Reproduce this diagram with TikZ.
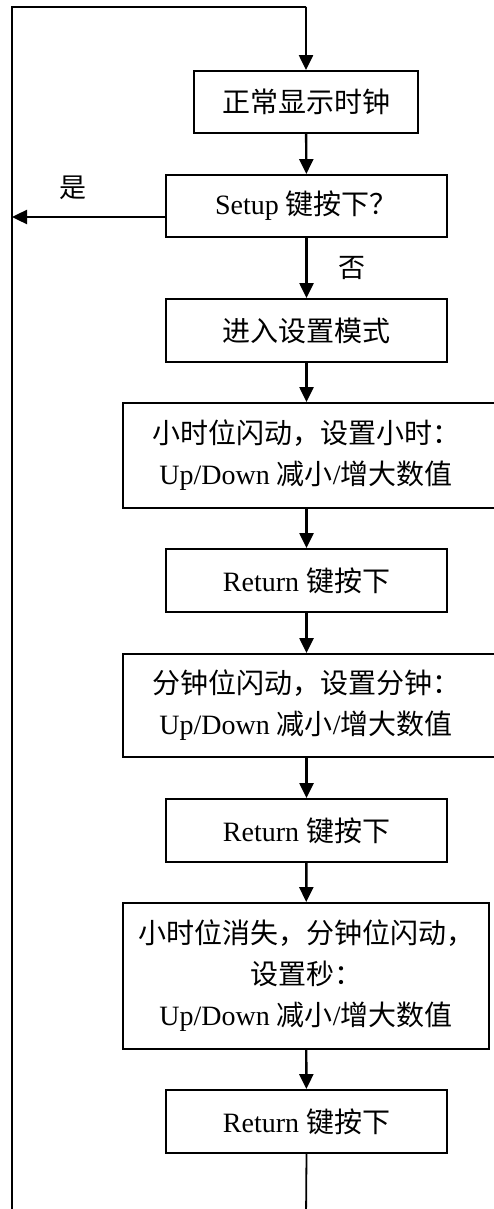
\documentclass[tikz,border=0pt]{standalone}
\usepackage{fontspec}
\setmainfont{Liberation Serif}
\newfontfamily\cjk{Noto Sans CJK SC}
\usetikzlibrary{arrows.meta}
\tikzset{
  box/.style={draw, line width=1.9pt, minimum height=62pt, inner sep=0pt, align=center,
    font=\fontsize{28}{41}\selectfont},
  flow/.style={line width=2.4pt, -{Triangle[length=15pt,width=14pt]}},
  loopline/.style={line width=1.8pt},
  lbl/.style={font=\fontsize{27}{30}\selectfont\cjk, inner sep=0pt}
}
\newcommand\shiftl{\hspace*{-14pt}}
\begin{document}
\begin{tikzpicture}[x=1pt,y=-1pt]
\useasboundingbox (0,0) rectangle (494,1209);
\node[box, minimum width=224pt] (b1) at (306,102) {\cjk 正常显示时钟};
\node[box, minimum width=281pt] (b2) at (306.5,206) {Setup {\cjk 键按下？}};
\node[box, minimum width=281pt, minimum height=63pt] (b3) at (306.5,330.5) {\cjk 进入设置模式};
\node[box, minimum width=380pt, minimum height=105pt] (b4) at (313,455.5) {\shiftl{\cjk 小时位闪动，设置小时：}\\\shiftl Up/Down {\cjk 减小}/{\cjk 增大数值}};
\node[box, minimum width=281pt, minimum height=63pt] (b5) at (306.5,580.5) {Return {\cjk 键按下}};
\node[box, minimum width=380pt, minimum height=103pt] (b6) at (313,705.5) {\shiftl{\cjk 分钟位闪动，设置分钟：}\\\shiftl Up/Down {\cjk 减小}/{\cjk 增大数值}};
\node[box, minimum width=281pt, minimum height=63pt] (b7) at (306.5,830.5) {Return {\cjk 键按下}};
\node[box, minimum width=366pt, minimum height=146pt] (b8) at (306,976) {{\cjk 小时位消失，分钟位闪动，}\\{\cjk 设置秒：}\\Up/Down {\cjk 减小}/{\cjk 增大数值}};
\node[box, minimum width=281pt, minimum height=63pt] (b9) at (306.5,1121.5) {Return {\cjk 键按下}};

\coordinate (top) at (306,7);
\coordinate (topleft) at (12,7);
\coordinate (botleft) at (12,1220);
\coordinate (bot) at (306,1220);
\coordinate (yesend) at (12,217);

\draw[loopline] (b9.south) -- (bot) -- (botleft) -- (topleft) -- (top);
\draw[flow] (top) -- (b1.north);
\draw[flow] (b1) -- (b2);
\draw[flow] (b2.west |- yesend) -- (yesend);
\draw[flow] (b2) -- (b3);
\draw[flow] (b3) -- (b4.north -| b3.south);
\draw[flow] (b4.south -| b3.south) -- (b5);
\draw[flow] (b5) -- (b6.north -| b5.south);
\draw[flow] (b6.south -| b5.south) -- (b7);
\draw[flow] (b7) -- (b8);
\draw[flow] (b8) -- (b9);

\node[lbl] (yes) at (73,188) {是};
\node[lbl] (no) at (352,268) {否};
\end{tikzpicture}
\end{document}
